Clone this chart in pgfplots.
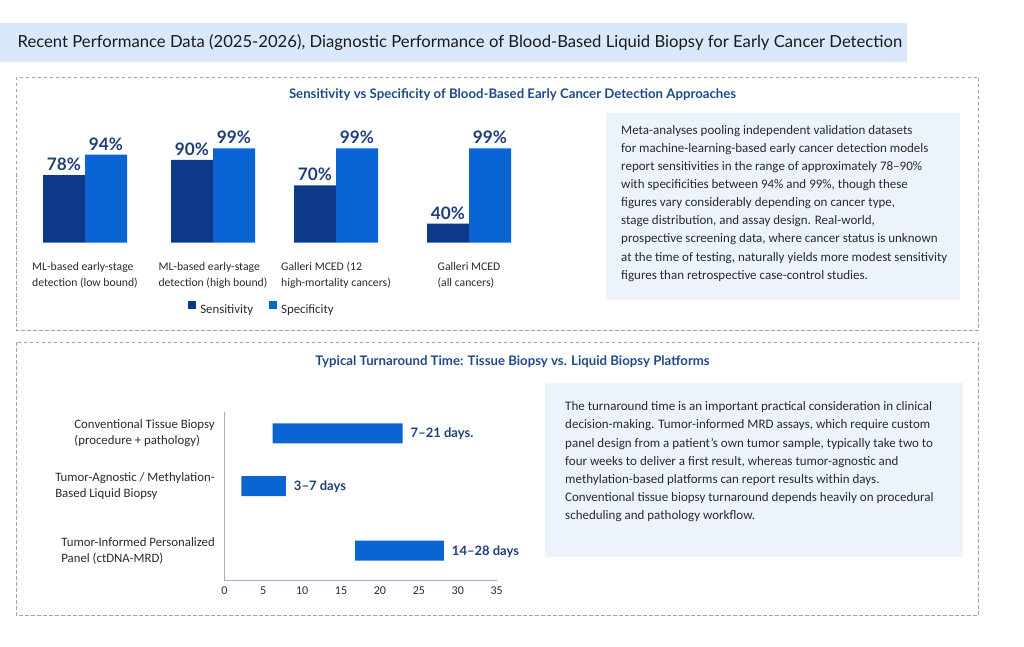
\documentclass[border=0pt]{standalone}
\usepackage{pgfplots}
\pgfplotsset{compat=1.18}
\usepackage{fontspec}
\setmainfont{Carlito}
\newfontfamily\lato{Lato}
\definecolor{bandblue}{HTML}{DAE8FB}
\definecolor{boxfill}{HTML}{EDF3FB}
\definecolor{dashcol}{HTML}{8DA6CF}
\definecolor{subcol}{HTML}{1F4A87}
\definecolor{sens}{HTML}{0C3A88}
\definecolor{spec}{HTML}{0A64D3}
\definecolor{vlab}{HTML}{1E3E78}
\definecolor{txt}{HTML}{2A2A2A}
\definecolor{titlecol}{HTML}{1A1A1A}
\definecolor{axgray}{HTML}{9AAFCC}
\newcommand{\fs}[2]{\fontsize{#1}{#2}\selectfont}
\newcommand{\tl}[3]{\node[anchor=base west,inner sep=0pt,font=\fs{13}{16},text=txt] at (#1,#2) {#3};}

\begin{document}
\begin{tikzpicture}
\path[use as bounding box] (0,0) rectangle (1024pt,-647pt);
\begin{scope}[x=1pt,y=-1pt]
\fill[bandblue] (0,23.5) rectangle (907,61.7);
\node[anchor=base west,inner sep=0pt,font=\lato\fs{16.65}{19},text=titlecol] at (17.5,48) {Recent Performance Data (2025-2026), Diagnostic Performance of Blood-Based Liquid Biopsy for Early Cancer Detection};
\draw[dashcol,line width=0.9pt,dash pattern=on 3.5pt off 2.5pt] (16,77) rectangle (978.5,330);
\draw[dashcol,line width=0.9pt,dash pattern=on 3.5pt off 2.5pt] (16,342) rectangle (978.5,615);
\node[anchor=base,inner sep=0pt,font=\lato\bfseries\fs{13.2}{15},text=subcol] at (512.5,98.5) {Sensitivity vs Specificity of Blood-Based Early Cancer Detection Approaches};
\node[anchor=base,inner sep=0pt,font=\lato\bfseries\fs{13.2}{15},text=subcol] at (512.5,365.5) {Typical Turnaround Time: Tissue Biopsy vs. Liquid Biopsy Platforms};
\fill[boxfill] (606,112.7) rectangle (960,300);
\fill[boxfill] (545,382.7) rectangle (963.3,556.7);
\tl{621}{134.7}{Meta-analyses pooling independent validation datasets}
\tl{621}{152.7}{for machine-learning-based early cancer detection models}
\tl{621}{170.8}{report sensitivities in the range of approximately 78–90\%}
\tl{621}{188.8}{with specificities between 94\% and 99\%, though these}
\tl{621}{206.9}{figures vary considerably depending on cancer type,}
\tl{621}{224.9}{stage distribution, and assay design. Real-world,}
\tl{621}{242.9}{prospective screening data, where cancer status is unknown}
\tl{621}{261.0}{at the time of testing, naturally yields more modest sensitivity}
\tl{621}{279.0}{figures than retrospective case-control studies.}
\tl{565}{410.7}{The turnaround time is an important practical consideration in clinical}
\tl{565}{428.9}{decision-making. Tumor-informed MRD assays, which require custom}
\tl{565}{447.0}{panel design from a patient's own tumor sample, typically take two to}
\tl{565}{465.2}{four weeks to deliver a first result, whereas tumor-agnostic and}
\tl{565}{483.4}{methylation-based platforms can report results within days.}
\tl{565}{501.6}{Conventional tissue biopsy turnaround depends heavily on procedural}
\tl{565}{519.7}{scheduling and pathology workflow.}
\end{scope}

% ---- chart 1: sensitivity vs specificity ----
\begin{axis}[
  at={(0pt,-242.7pt)}, anchor=south west,
  scale only axis, width=600pt, height=127.6pt,
  xmin=0, xmax=600, ymin=25, ymax=125,
  ybar, bar width=42pt,
  axis line style={draw=none}, major tick length=0pt,
  ytick=\empty,
  xtick={85,213,336,469},
  xticklabels={{ML-based early-stage\\detection (low bound)},{ML-based early-stage\\detection (high bound)},{Galleri MCED (12\\high-mortality cancers)},{Galleri MCED\\(all cancers)}},
  xticklabel style={align=left, anchor=north, font=\fs{11.7}{16}, text=txt, yshift=-16pt},
  /pgf/number format/assume math mode=true,
  nodes near coords={\pgfmathprintnumber{\pgfplotspointmeta}\%},
  nodes near coords style={anchor=base, inner sep=0pt, yshift=4.5pt, font=\lato\bfseries\fs{17.2}{20}, text=vlab},
  legend columns=2,
  legend style={at={(axis cs:262,-27)}, anchor=center, draw=none, fill=none, font=\fs{12.8}{15}, text=txt,
     /tikz/every odd column/.append style={column sep=2pt},
     /tikz/every even column/.append style={column sep=14pt}},
  legend image code/.code={\fill[#1] (0pt,0pt) rectangle (8pt,8pt);},
]
\addplot[fill=sens, draw=none, bar shift=-21pt] coordinates {(85,78) (213,90) (336,70) (469,40)};
\addlegendentry{Sensitivity}
\addplot[fill=spec, draw=none, bar shift=21pt] coordinates {(85,94) (213,99) (336,99) (469,99)};
\addlegendentry{Specificity}
\end{axis}

% ---- chart 2: turnaround time ----
\begin{axis}[
  at={(224.3pt,-580pt)}, anchor=south west,
  scale only axis, width=272.4pt, height=168.3pt,
  xmin=0, xmax=35, ymin=0, ymax=168.3,
  xbar stacked, bar width=20pt,
  axis x line*=bottom, axis y line*=left,
  axis line style={-, draw=axgray, line width=0.8pt},
  major tick length=0pt,
  xtick={0,5,...,35},
  /pgf/number format/assume math mode=true,
  xticklabel style={font=\fs{12}{14}, text=txt, yshift=-3pt},
  ytick={146.7,94,29.3},
  yticklabels={{Conventional Tissue Biopsy\\(procedure + pathology)},{Tumor-Agnostic / Methylation-\\Based Liquid Biopsy},{Tumor-Informed Personalized\\Panel (ctDNA-MRD)}},
  yticklabel style={align=left, anchor=east, font=\fs{12.8}{16.5}, text=txt, xshift=-6pt},
]
% start of each bar (invisible offset)
\addplot[draw=none, fill=none] coordinates {(6.2,146.7) (2.2,94) (16.8,29.3)};
% duration of each bar
\addplot[fill=spec, draw=none] coordinates {(16.7,146.7) (5.7,94) (11.4,29.3)};
\end{axis}

% ---- labels at the bar ends (same geometry, not stacked) ----
\begin{axis}[
  at={(224.3pt,-580pt)}, anchor=south west,
  scale only axis, width=272.4pt, height=168.3pt,
  xmin=0, xmax=35, ymin=0, ymax=168.3,
  hide axis, clip=false,
]
\addplot[only marks, mark=none, nodes near coords, point meta=explicit symbolic,
  nodes near coords style={anchor=base west, inner sep=0pt, xshift=8pt, yshift=-4.5pt, font=\lato\bfseries\fs{13}{15}, text=vlab}]
  coordinates {(22.9,146.7)[7–21 days.] (7.9,94)[3–7 days] (28.2,29.3)[14–28 days]};
\end{axis}
\end{tikzpicture}
\end{document}
